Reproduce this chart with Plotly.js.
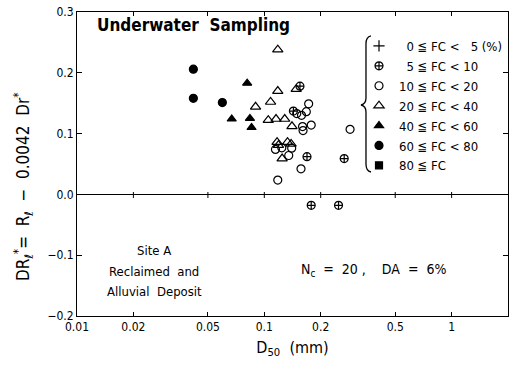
<!DOCTYPE html>
<html><head><meta charset="utf-8">
<script src="https://cdn.plot.ly/plotly-3.0.1.min.js"></script>
<style>html,body{margin:0;padding:0;background:#fff}</style>
</head><body>
<div id="chart" style="width:510px;height:368px"></div>
<script>
// ---- data (D50 in mm, DR*) ----
const fc0_5_x = [];
const fc0_5_y = [];
const fc5_10_x = [0.155, 0.143, 0.169, 0.267, 0.178, 0.249];
const fc5_10_y = [0.178, 0.137, 0.062, 0.059, -0.018, -0.018];
const fc10_20_x = [0.1725, 0.1676, 0.158, 0.149, 0.160, 0.178, 0.161, 0.287, 0.1147, 0.124, 0.140, 0.135, 0.157, 0.118];
const fc10_20_y = [0.149, 0.136, 0.130, 0.133, 0.1115, 0.114, 0.105, 0.107, 0.074, 0.0766, 0.076, 0.064, 0.042, 0.0236];
const fc20_40_x = [0.118, 0.118, 0.148, 0.108, 0.0898, 0.105, 0.1155, 0.1285, 0.1405, 0.117, 0.133, 0.119, 0.139, 0.1245];
const fc20_40_y = [0.238, 0.170, 0.173, 0.152, 0.144, 0.122, 0.124, 0.124, 0.112, 0.086, 0.086, 0.081, 0.083, 0.059];
const fc40_60_x = [0.081, 0.067, 0.0838, 0.0855];
const fc40_60_y = [0.183, 0.124, 0.125, 0.110];
const fc60_80_x = [0.0418, 0.0418, 0.0597];
const fc60_80_y = [0.206, 0.158, 0.151];
const fc80_x = [];
const fc80_y = [];

const legendNames = [
  "\u00a0\u00a00 ≦ FC <\u00a0\u00a0\u00a05 (%)",
  "\u00a0\u00a05 ≦ FC < 10",
  "10 ≦ FC < 20",
  "20 ≦ FC < 40",
  "40 ≦ FC < 60",
  "60 ≦ FC < 80",
  "80 ≦ FC"];
const xTickVals = [0.01, 0.02, 0.05, 0.1, 0.2, 0.5, 1, 2];
const xTickText = ["0.01", "0.02", "0.05", "0.1", "0.2", "0.5", "1", "2"];
const yTickVals = [-0.2, -0.1, 0.0, 0.1, 0.2, 0.3];

const FONT = "DejaVu Sans Condensed, Liberation Sans Narrow, Liberation Sans, sans-serif";

const series = [
  [fc0_5_x, fc0_5_y, "cross-thin-open", 8],
  [fc5_10_x, fc5_10_y, "circle-cross-open", 8],
  [fc10_20_x, fc10_20_y, "circle-open", 8],
  [fc20_40_x, fc20_40_y, "triangle-up-open", 9],
  [fc40_60_x, fc40_60_y, "triangle-up", 8],
  [fc60_80_x, fc60_80_y, "circle", 8],
  [fc80_x, fc80_y, "square", 7]
];
const traces = series.map((s, i) => ({
  x: s[0], y: s[1], type: "scatter", mode: "markers", name: legendNames[i],
  marker: {symbol: s[2], size: s[3], color: "#000", line: {color: "#000", width: 1.2}},
  showlegend: true, cliponaxis: false
}));
traces.forEach(t => { if (t.x.length === 0) { t.x = [null]; t.y = [null]; } });

const L = 77, T = 12, W = 431, H = 304;
const px = (x) => (x - L) / W, py = (y) => (T + H - y) / H;
function P(x, y) { return px(x).toFixed(4) + "," + py(y).toFixed(4); }
const brace = "M" + P(371, 36) + " Q" + P(366, 37) + " " + P(366, 44) +
  " L" + P(366, 98) + " Q" + P(366, 104) + " " + P(361, 105) +
  " Q" + P(366, 106) + " " + P(366, 112) + " L" + P(366, 164) +
  " Q" + P(366, 171) + " " + P(371, 172);

function ann(x, y, text, size, angle) {
  return {xref: "paper", yref: "paper", x: px(x), y: py(y), xanchor: "center", yanchor: "middle",
    text: text, showarrow: false, textangle: angle || 0, font: {family: FONT, size: size, color: "#000"}};
}

// small tick marks crossing the zero line at the major x ticks
const zeroTicks = xTickVals.slice(1, -1).map(v => ({
  type: "line", xref: "x", yref: "paper", x0: v, x1: v, y0: py(198), y1: py(192),
  line: {color: "#000", width: 1}
}));

const layout = {
  width: 510, height: 368,
  margin: {l: L, r: 510 - L - W, t: T, b: 368 - T - H},
  paper_bgcolor: "#fff", plot_bgcolor: "#fff",
  font: {family: FONT, size: 12, color: "#000"},
  showlegend: true,
  legend: {x: px(359), y: py(31), xanchor: "left", yanchor: "top",
    bgcolor: "rgba(255,255,255,0)", borderwidth: 0, font: {family: FONT, size: 13, color: "#000"},
    tracegroupgap: 0, itemwidth: 30},
  xaxis: {type: "log", range: [Math.log10(0.01), Math.log10(2)], tickmode: "array",
    tickvals: xTickVals, ticktext: xTickText, ticks: "inside", ticklen: 4, tickcolor: "#000",
    showgrid: false, zeroline: false, showline: true, linecolor: "#000", linewidth: 1, mirror: "ticks",
    tickfont: {family: FONT, size: 12},
    title: {text: "D<sub>50</sub>  (mm)", font: {family: FONT, size: 16}, standoff: 8}},
  yaxis: {range: [-0.2, 0.3], tickmode: "array", tickvals: yTickVals, tickformat: ".1f",
    ticks: "inside", ticklen: 5, tickcolor: "#000",
    showgrid: false, zeroline: true, zerolinecolor: "#000", zerolinewidth: 1,
    showline: true, linecolor: "#000", linewidth: 1, mirror: "ticks",
    tickfont: {family: FONT, size: 12}},
  shapes: [{type: "path", xref: "paper", yref: "paper", path: brace, line: {color: "#000", width: 1.3}}].concat(zeroTicks),
  annotations: [
    ann(24, 187, "DR<sub>ℓ</sub><sup>*</sup>=  R<sub>ℓ</sub>  −  0.0042  Dr<sup>*</sup>", 17, -90),
    ann(193, 25, "<b>Underwater  Sampling</b>", 17),
    ann(154, 250, "Site A", 13),
    ann(154, 271, "Reclaimed  and", 13),
    ann(154, 291, "Alluvial  Deposit", 13),
    ann(373, 270, "N<sub>c</sub>  =  20 ,    DA  =  6%", 14)
  ]
};
Plotly.newPlot("chart", traces, layout, {displayModeBar: false, staticPlot: true});
</script>
</body></html>
